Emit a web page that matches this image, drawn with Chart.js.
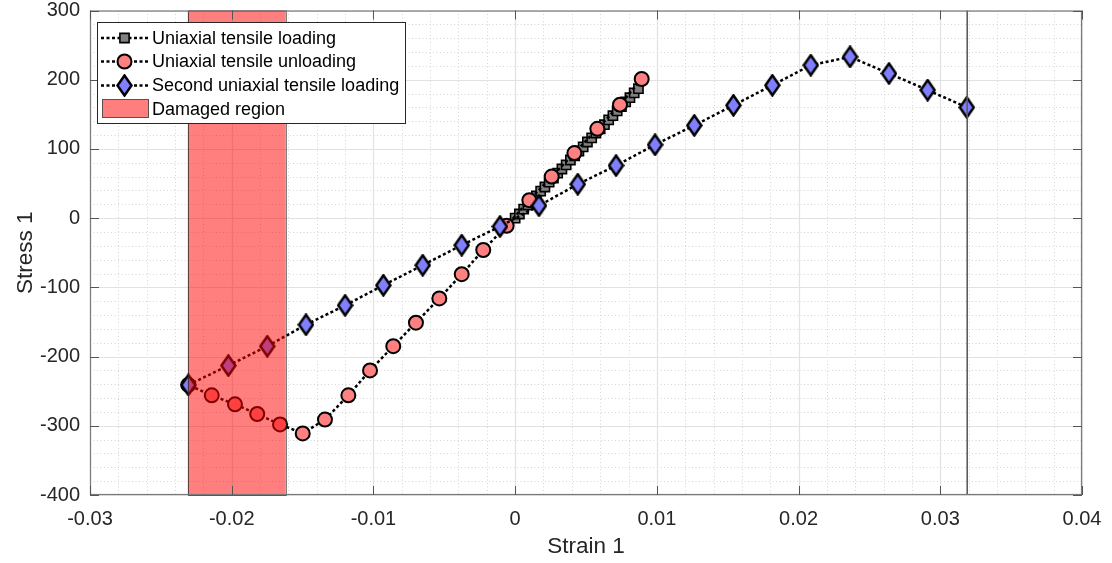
<!DOCTYPE html>
<html><head><meta charset="utf-8">
<script src="https://cdn.jsdelivr.net/npm/chart.js@4.4.0/dist/chart.umd.min.js"></script>
<style>html,body{margin:0;padding:0;background:#fff;}#wrap{width:1112px;height:563px;}</style>
</head><body><div id="wrap"><canvas id="c" width="1112" height="563"></canvas></div>
<script>
// ---------- data ----------
const loadingStrain = [0,0.0003,0.0006,0.0009,0.0012,0.0015,0.0018,0.0021,0.0024,0.0027,0.0030,0.0033,0.0036,0.0039,0.0042,0.0045,0.0048,0.0051,0.0054,0.0057,0.0060,0.0063,0.0066,0.0069,0.0072,0.0075,0.0078,0.0081,0.0084,0.0087];
const loadingStress = [0,6,13,19,26,32,39,45,52,58,65,71,77,84,90,97,103,110,116,123,129,135,142,148,155,161,168,174,181,187];

const unloadingStrain = [0.00893,0.0074,0.0058,0.00418,0.00258,0.0010,-0.0006,-0.00225,-0.00377,-0.00535,-0.0070,-0.0086,-0.01024,-0.01177,-0.01342,-0.01499,-0.01659,-0.0182,-0.01977,-0.02141,-0.02306];
const unloadingStress = [201,164,129,94,60,26,-11,-46,-81,-116,-151,-185,-220,-256,-291,-311,-298,-283,-269,-256,-241];

const secondStrain = [-0.02306,-0.02024,-0.01749,-0.01476,-0.0120,-0.0093,-0.00652,-0.00377,-0.00107,0.00168,0.00442,0.00712,0.00987,0.01264,0.0154,0.01815,0.02086,0.02363,0.02638,0.02911,0.03187];
const secondStress = [-241,-213,-185,-154,-126,-97,-68,-39,-12,18,49,76,106,134,163,192,221,233,209,185,160];

const damagedRegion = [-0.0231,-0.0162];
const finalStrainLine = [0.0319];

const xTicks = [-0.03,-0.02,-0.01,0,0.01,0.02,0.03,0.04];
const xTickLabels = ['-0.03','-0.02','-0.01','0','0.01','0.02','0.03','0.04'];
const yTicks = [-400,-300,-200,-100,0,100,200,300];
const yTickLabels = ['-400','-300','-200','-100','0','100','200','300'];
const seriesNames = ['Uniaxial tensile loading','Uniaxial tensile unloading','Second uniaxial tensile loading','Damaged region'];
const axisTitles = ['Strain 1','Stress 1'];

// ---------- styles ----------
const FONT = "'Liberation Sans', Arial, Helvetica, sans-serif";
const TXT = '#262626';

function makeDiamond(){
  const w = 17, h = 23, c = document.createElement('canvas');
  c.width = w; c.height = h;
  const g = c.getContext('2d');
  g.beginPath();
  g.moveTo(w/2, 1.5); g.lineTo(w-1.5, h/2); g.lineTo(w/2, h-1.5); g.lineTo(1.5, h/2); g.closePath();
  g.fillStyle = '#8080FF'; g.fill();
  g.lineWidth = 2.5; g.strokeStyle = '#000'; g.lineJoin = 'miter'; g.stroke();
  return c;
}
const diamond = makeDiamond();

const pts = (xs, ys) => xs.map((x,i)=>({x:x, y:ys[i]}));
const lineStyle = {showLine:true, borderColor:'#000', borderWidth:2.5, borderDash:[3,2.5], pointBorderColor:'#000', tension:0, clip:false};

const datasets = [
  Object.assign({label:seriesNames[0], data:pts(loadingStrain,loadingStress), order:3,
    pointStyle:'rect', pointRadius:6.5, pointBackgroundColor:'#808080', pointBorderWidth:1.6}, lineStyle),
  Object.assign({label:seriesNames[1], data:pts(unloadingStrain,unloadingStress), order:2,
    pointStyle:'circle', pointRadius:7, pointBackgroundColor:'#FF8080', pointBorderWidth:2}, lineStyle),
  Object.assign({label:seriesNames[2], data:pts(secondStrain,secondStress), order:1,
    pointStyle:diamond, pointRadius:8, pointBackgroundColor:'#8080FF', pointBorderWidth:2.5}, lineStyle)
];

const gridPlugin = {
  id:'grid',
  beforeDatasetsDraw(chart){
    const {ctx, chartArea:a, scales:{x, y}} = chart;
    ctx.save();
    ctx.strokeStyle = '#d4d4d4'; ctx.lineWidth = 1; ctx.setLineDash([1,2.5]);
    for (let i=0;i<xTicks.length-1;i++){
      for (let k=1;k<5;k++){
        const v = xTicks[i] + (xTicks[i+1]-xTicks[i])*k/5;
        const px = Math.round(x.getPixelForValue(v))+0.5;
        ctx.beginPath(); ctx.moveTo(px,a.top); ctx.lineTo(px,a.bottom); ctx.stroke();
      }
    }
    for (let i=0;i<yTicks.length-1;i++){
      for (let k=1;k<5;k++){
        const v = yTicks[i] + (yTicks[i+1]-yTicks[i])*k/5;
        const py = Math.round(y.getPixelForValue(v))+0.5;
        ctx.beginPath(); ctx.moveTo(a.left,py); ctx.lineTo(a.right,py); ctx.stroke();
      }
    }
    ctx.setLineDash([]); ctx.strokeStyle = '#e2e2e2'; ctx.lineWidth = 1.2;
    xTicks.forEach(v=>{const px=Math.round(x.getPixelForValue(v))+0.5; ctx.beginPath(); ctx.moveTo(px,a.top); ctx.lineTo(px,a.bottom); ctx.stroke();});
    yTicks.forEach(v=>{const py=Math.round(y.getPixelForValue(v))+0.5; ctx.beginPath(); ctx.moveTo(a.left,py); ctx.lineTo(a.right,py); ctx.stroke();});
    ctx.restore();
  }
};

const overlayPlugin = {
  id:'overlay',
  afterDatasetsDraw(chart){
    const {ctx, chartArea:a, scales:{x, y}} = chart;
    ctx.save();
    const x0 = x.getPixelForValue(damagedRegion[0]), x1 = x.getPixelForValue(damagedRegion[1]);
    ctx.fillStyle = 'rgba(255,0,0,0.5)';
    ctx.fillRect(x0, a.top, x1-x0, a.bottom-a.top);
    ctx.strokeStyle = 'rgba(40,40,40,0.75)'; ctx.lineWidth = 1;
    ctx.strokeRect(Math.round(x0)+0.5, a.top+0.5, x1-x0, a.bottom-a.top);
    finalStrainLine.forEach(v=>{
      const px = x.getPixelForValue(v);
      ctx.strokeStyle = '#5c5c5c'; ctx.lineWidth = 1.6;
      ctx.beginPath(); ctx.moveTo(px,a.top); ctx.lineTo(px,a.bottom); ctx.stroke();
    });
    ctx.strokeStyle = '#7a7a7a'; ctx.lineWidth = 1.2;
    ctx.strokeRect(a.left+0.5, a.top+0.5, a.right-a.left-1, a.bottom-a.top-1);
    ctx.strokeStyle = '#555'; ctx.lineWidth = 1;
    const TL = 9;
    xTicks.forEach(v=>{const px=Math.round(x.getPixelForValue(v))+0.5;
      ctx.beginPath(); ctx.moveTo(px,a.bottom); ctx.lineTo(px,a.bottom-TL); ctx.moveTo(px,a.top); ctx.lineTo(px,a.top+TL); ctx.stroke();});
    yTicks.forEach(v=>{const py=Math.round(y.getPixelForValue(v))+0.5;
      ctx.beginPath(); ctx.moveTo(a.left,py); ctx.lineTo(a.left+TL,py); ctx.moveTo(a.right,py); ctx.lineTo(a.right-TL,py); ctx.stroke();});
    ctx.restore();
  },
  afterDraw(chart){
    const ctx = chart.ctx;
    ctx.save();
    const bx = 97.5, by = 22.5, bw = 308, bh = 101;
    ctx.fillStyle = '#fff'; ctx.fillRect(bx,by,bw,bh);
    ctx.strokeStyle = '#262626'; ctx.lineWidth = 1; ctx.strokeRect(bx,by,bw,bh);
    const rows = [38, 61.5, 85.5, 109];
    const lx0 = 101, lx1 = 148, mx = 124.5, tx = 152;
    ctx.font = '18px ' + FONT; ctx.textBaseline = 'middle'; ctx.fillStyle = '#000';
    for (let i=0;i<3;i++){
      const ds = chart.data.datasets[i];
      ctx.save();
      ctx.strokeStyle = '#000'; ctx.lineWidth = 2.5; ctx.setLineDash([3,2.5]);
      ctx.beginPath(); ctx.moveTo(lx0, rows[i]); ctx.lineTo(lx1, rows[i]); ctx.stroke();
      ctx.setLineDash([]);
      ctx.fillStyle = ds.pointBackgroundColor; ctx.strokeStyle = '#000'; ctx.lineWidth = ds.pointBorderWidth;
      Chart.helpers.drawPoint(ctx, {pointStyle:ds.pointStyle, radius:ds.pointRadius, borderWidth:ds.pointBorderWidth, rotation:0}, mx, rows[i]);
      ctx.restore();
      ctx.fillStyle = '#000';
      ctx.fillText(seriesNames[i], tx, rows[i]+1);
    }
    ctx.fillStyle = 'rgba(255,0,0,0.5)'; ctx.fillRect(102.5, 99.5, 46, 18);
    ctx.strokeStyle = 'rgba(40,40,40,0.75)'; ctx.lineWidth = 1; ctx.strokeRect(102.5, 99.5, 46, 18);
    ctx.fillStyle = '#000'; ctx.fillText(seriesNames[3], tx, rows[3]+1);
    ctx.restore();
  }
};

new Chart(document.getElementById('c'), {
  type:'scatter',
  data:{datasets},
  options:{
    responsive:false, devicePixelRatio:1, animation:false, events:[],
    layout:{padding:{left:0, right:30, top:10, bottom:0}},
    plugins:{legend:{display:false}, tooltip:{enabled:false}},
    scales:{
      x:{type:'linear', min:-0.03, max:0.04,
        afterBuildTicks:s=>{s.ticks = xTicks.map(v=>({value:v}));},
        afterFit:s=>{s.height = 68; s.paddingLeft = 0; s.paddingRight = 0;},
        grid:{drawOnChartArea:false, drawTicks:false}, border:{display:false},
        ticks:{callback:(v,i)=>xTickLabels[i], font:{family:FONT, size:20}, color:TXT, padding:12, maxRotation:0, autoSkip:false},
        title:{display:true, text:axisTitles[0], font:{family:FONT, size:22.5}, color:TXT, padding:{top:0,bottom:3}}
      },
      y:{type:'linear', min:-400, max:300,
        afterBuildTicks:s=>{s.ticks = yTicks.map(v=>({value:v}));},
        afterFit:s=>{s.width = 90; s.paddingTop = 0; s.paddingBottom = 0;},
        grid:{drawOnChartArea:false, drawTicks:false}, border:{display:false},
        ticks:{callback:(v,i)=>yTickLabels[i], font:{family:FONT, size:20}, color:TXT, padding:10, autoSkip:false},
        title:{display:true, text:axisTitles[1], font:{family:FONT, size:22.5}, color:TXT, padding:{top:12,bottom:0}}
      }
    }
  },
  plugins:[gridPlugin, overlayPlugin]
});
</script></body></html>
